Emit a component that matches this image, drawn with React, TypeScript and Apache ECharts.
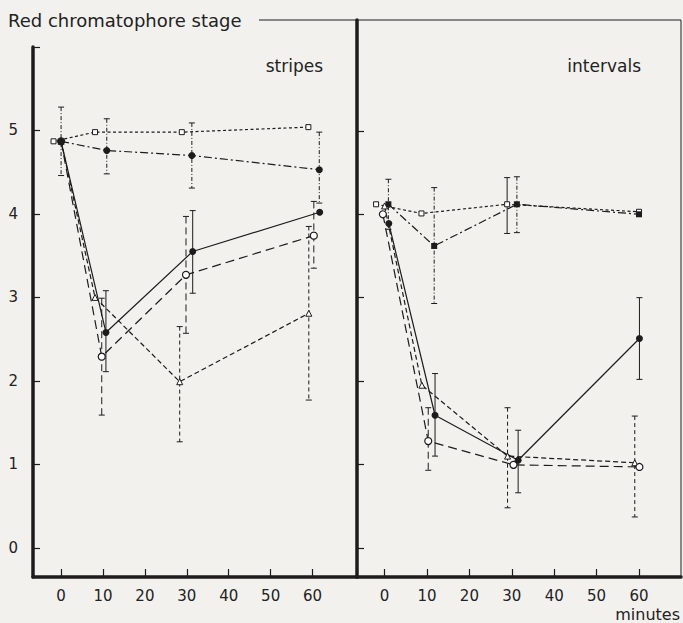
import React, { useEffect, useRef } from "react";
import * as echarts from "echarts";

// ---- data ----
const X_TICKS = [0, 10, 20, 30, 40, 50, 60];
const Y_LABELS = [0, 1, 2, 3, 4, 5];
const Y_TICKS_LEFT = [0, 1, 2, 3, 4, 5, 6];
const PANEL_TITLES = ["stripes", "intervals"];

// stripes panel
const sqL_x = [-1.8, 8.1, 28.8, 59];
const sqL_y = [4.87, 4.98, 4.98, 5.04];
const ddL_x = [0, 10.9, 31.2, 61.6];
const ddL_y = [4.87, 4.76, 4.7, 4.53];
const ddL_err = [[0, 4.46, 5.28], [10.9, 4.48, 5.14], [31.2, 4.31, 5.09], [61.6, 4.13, 4.98]];
const soL_x = [0, 10.7, 31.4, 61.7];
const soL_y = [4.87, 2.58, 3.55, 4.02];
const soL_err = [[10.7, 2.11, 3.08], [31.4, 3.05, 4.04]];
const ocL_x = [0, 9.7, 29.8, 60.3];
const ocL_y = [4.87, 2.29, 3.27, 3.74];
const ocL_err = [[9.7, 1.59, 2.99], [29.8, 2.57, 3.97], [60.3, 3.35, 4.15]];
const trL_x = [0, 8.1, 28.3, 59.1];
const trL_y = [4.87, 3.0, 1.99, 2.81];
const trL_err = [[28.3, 1.27, 2.65], [59.1, 1.77, 3.85]];

// intervals panel
const sqR_x = [-2, 8.7, 28.9, 60];
const sqR_y = [4.12, 4.01, 4.12, 4.03];
const sqR_err = [[28.9, 3.77, 4.44]];
const ddR_x = [0.9, 11.7, 31.2, 60];
const ddR_y = [4.12, 3.62, 4.12, 4.0];
const ddR_err = [[0.9, 3.82, 4.42], [11.7, 2.93, 4.32], [31.2, 3.78, 4.45]];
const soR_x = [1.0, 11.9, 31.5, 60.1];
const soR_y = [3.89, 1.59, 1.05, 2.51];
const soR_err = [[11.9, 1.1, 2.09], [31.5, 0.66, 1.41], [60.1, 2.02, 3.0]];
const ocR_x = [-0.4, 10.3, 30.4, 60.1];
const ocR_y = [4.0, 1.28, 0.995, 0.97];
const ocR_err = [[10.3, 0.93, 1.68]];
const trR_x = [0, 8.8, 29, 59];
const trR_y = [4.1, 1.95, 1.1, 1.02];
const trR_err = [[29, 0.48, 1.68], [59, 0.37, 1.58]];

const INK = "#1c1c1c";
const BG = "#f3f1ee";
const FONT = "DejaVu Sans";

const DASH = {
  solid: "solid" as any,
  sq: [3, 2.5],
  dd: [8, 3, 2, 3],
  oc: [9, 5],
  tr: [5, 3],
};

function zip(xs: number[], ys: number[]) {
  return xs.map((x, i) => [x, ys[i]]);
}

function lineSeries(grid: number, xs: number[], ys: number[], dash: any, marker: string) {
  let symbol = "circle";
  let size = 7;
  let item: any = { color: INK };
  if (marker === "openCircle") {
    item = { color: "#fff", borderColor: INK, borderWidth: 1.2 };
    size = 7;
  } else if (marker === "openSquare") {
    symbol = "rect";
    size = 5;
    item = { color: "#fff", borderColor: INK, borderWidth: 1 };
  } else if (marker === "openTriangle") {
    symbol = "triangle";
    size = 6;
    item = { color: "#fff", borderColor: INK, borderWidth: 1 };
  } else if (marker === "filledSquare") {
    symbol = "rect";
    size = 6;
  }
  return {
    type: "line",
    xAxisIndex: grid,
    yAxisIndex: grid,
    data: zip(xs, ys),
    symbol,
    symbolSize: size,
    showAllSymbol: true,
    itemStyle: item,
    lineStyle: { color: INK, width: 1.2, type: dash },
    z: 3,
    silent: true,
  };
}

function errSeries(grid: number, data: number[][], dash: any) {
  return {
    type: "custom",
    xAxisIndex: grid,
    yAxisIndex: grid,
    data,
    encode: { x: 0, y: [1, 2] },
    z: 1,
    silent: true,
    renderItem: (params: any, api: any) => {
      const x = api.value(0);
      const lo = api.value(1);
      const hi = api.value(2);
      const p1 = api.coord([x, hi]);
      const p2 = api.coord([x, lo]);
      const st = { stroke: INK, lineWidth: 1, lineDash: dash === "solid" ? null : dash };
      const capSt = { stroke: INK, lineWidth: 1 };
      return {
        type: "group",
        children: [
          { type: "line", shape: { x1: p1[0], y1: p1[1], x2: p2[0], y2: p2[1] }, style: st },
          { type: "line", shape: { x1: p1[0] - 3, y1: p1[1], x2: p1[0] + 3, y2: p1[1] }, style: capSt },
          { type: "line", shape: { x1: p2[0] - 3, y1: p2[1], x2: p2[0] + 3, y2: p2[1] }, style: capSt },
        ],
      };
    },
  };
}

export default function App() {
  const ref = useRef<HTMLDivElement>(null);
  useEffect(() => {
    if (!ref.current) return;
    const chart = echarts.init(ref.current, null, { renderer: "svg" });
    const axisLine = { show: true, onZero: false, lineStyle: { color: INK, width: 3.5 } };
    const label = { fontFamily: FONT, fontSize: 15, color: "#222" };
    const option: any = {
      animation: false,
      backgroundColor: BG,
      grid: [
        { left: 33, top: 47, width: 324, height: 530 },
        { left: 357, top: 20, width: 324, height: 557, show: true, borderColor: INK, borderWidth: 1, backgroundColor: "transparent" },
      ],
      xAxis: [
        {
          type: "value", gridIndex: 0, min: -6.7, max: 70.6,
          axisLine, splitLine: { show: false },
          axisTick: { show: true, inside: true, length: 8, customValues: X_TICKS, lineStyle: { color: INK, width: 1.2 } },
          axisLabel: { ...label, margin: 11, customValues: X_TICKS },
        },
        {
          type: "value", gridIndex: 1, min: -6.5, max: 69.9,
          axisLine, splitLine: { show: false },
          axisTick: { show: true, inside: true, length: 8, customValues: X_TICKS, lineStyle: { color: INK, width: 1.2 } },
          axisLabel: { ...label, margin: 11, customValues: X_TICKS },
        },
      ],
      yAxis: [
        {
          type: "value", gridIndex: 0, min: -0.35, max: 6,
          axisLine, splitLine: { show: false },
          axisTick: { show: true, inside: true, length: 7, customValues: Y_TICKS_LEFT, lineStyle: { color: INK, width: 1.2 } },
          axisLabel: { ...label, margin: 15, customValues: Y_LABELS },
        },
        {
          type: "value", gridIndex: 1, min: -0.35, max: 6.33,
          axisLine, splitLine: { show: false },
          axisTick: { show: true, inside: true, length: 7, customValues: Y_LABELS, lineStyle: { color: INK, width: 1.2 } },
          axisLabel: { show: false },
        },
      ],
      series: [
        errSeries(0, ddL_err, [4, 2, 1, 2]),
        errSeries(0, soL_err, "solid"),
        errSeries(0, ocL_err, [7, 4]),
        errSeries(0, trL_err, [4, 3]),
        lineSeries(0, sqL_x, sqL_y, DASH.sq, "openSquare"),
        lineSeries(0, ddL_x, ddL_y, DASH.dd, "filledCircle"),
        lineSeries(0, trL_x, trL_y, DASH.tr, "openTriangle"),
        lineSeries(0, ocL_x, ocL_y, DASH.oc, "openCircle"),
        lineSeries(0, soL_x, soL_y, DASH.solid, "filledCircle"),

        errSeries(1, sqR_err, "solid"),
        errSeries(1, ddR_err, [4, 2, 1, 2]),
        errSeries(1, soR_err, "solid"),
        errSeries(1, ocR_err, [7, 4]),
        errSeries(1, trR_err, [4, 3]),
        lineSeries(1, sqR_x, sqR_y, DASH.sq, "openSquare"),
        lineSeries(1, ddR_x, ddR_y, DASH.dd, "filledSquare"),
        lineSeries(1, trR_x, trR_y, DASH.tr, "openTriangle"),
        lineSeries(1, ocR_x, ocR_y, DASH.oc, "openCircle"),
        lineSeries(1, soR_x, soR_y, DASH.solid, "filledCircle"),
      ],
      graphic: [
        { type: "text", x: 8, y: 20, style: { text: "Red chromatophore stage", font: `18px '${FONT}'`, fill: "#222", verticalAlign: "middle" } },
        { type: "line", shape: { x1: 259, y1: 20, x2: 357, y2: 20 }, style: { stroke: INK, lineWidth: 1 } },
        { type: "text", x: 323, y: 66, style: { text: PANEL_TITLES[0], font: `17px '${FONT}'`, fill: "#222", align: "right", verticalAlign: "middle" } },
        { type: "text", x: 641, y: 66, style: { text: PANEL_TITLES[1], font: `17px '${FONT}'`, fill: "#222", align: "right", verticalAlign: "middle" } },
        { type: "text", x: 680, y: 614, style: { text: "minutes", font: `16px '${FONT}'`, fill: "#222", align: "right", verticalAlign: "middle" } },
      ],
    };
    chart.setOption(option);
    return () => chart.dispose();
  }, []);
  return (
    <div style={{ position: "fixed", left: 0, top: 0, width: 683, height: 623, background: BG }}>
      <div ref={ref} style={{ width: 683, height: 623 }} />
    </div>
  );
}
